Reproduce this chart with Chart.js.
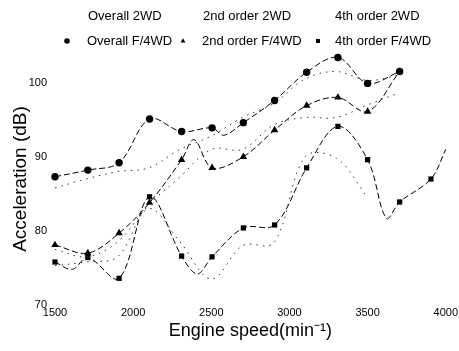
<!DOCTYPE html>
<html>
<head>
<meta charset="utf-8">
<script src="https://cdn.jsdelivr.net/npm/chart.js@4.4.1/dist/chart.umd.min.js"></script>
<style>
  body { margin: 0; background: #fff; }
  canvas { display: block; }
</style>
</head>
<body>
<canvas id="chart1" width="459" height="351"></canvas>
<script>

// axes
const xTicks = [1500, 2000, 2500, 3000, 3500, 4000];
const yTicks = [70, 80, 90, 100];

// regimes ou il y a un marqueur (F/4WD)
const marks4 = [1500, 1710, 1910, 2105, 2310, 2505, 2705, 2905, 3110, 3310, 3500, 3705, 3905];

// Overall F/4WD
const rpmOverall4 = [1500, 1710, 1910, 2105, 2310, 2505, 2580, 2705, 2905, 3110, 3310, 3500, 3705];
const accOverall4 = [87.3, 88.2, 89.2, 95.1, 93.4, 93.9, 92.9, 94.6, 97.6, 101.4, 103.4, 99.9, 101.5];

// 2nd order F/4WD
const rpmSecond4 = [1500, 1710, 1910, 2105, 2310, 2390, 2505, 2705, 2905, 3110, 3310, 3500, 3705];
const accSecond4 = [78.1, 77.0, 79.7, 83.8, 89.6, 92.3, 88.5, 90.0, 93.6, 96.9, 98.0, 96.1, 101.5];

// 4th order F/4WD
const rpmFourth4 = [1500, 1610, 1710, 1910, 2105, 2310, 2410, 2505, 2705, 2905, 3110, 3310, 3500, 3620, 3705, 3905, 4000];
const accFourth4 = [75.8, 74.8, 76.4, 73.6, 84.6, 76.6, 74.2, 76.5, 80.4, 80.8, 88.5, 94.1, 89.6, 81.7, 83.9, 87.0, 91.0];

// 2WD (courbes sans marqueurs lisibles)
const rpm2 = [1500, 1700, 1900, 2100, 2300, 2500, 2700, 2900, 3100, 3300, 3500, 3700];
const accOverall2 = [85.8, 87.0, 88.0, 88.5, 91.0, 92.8, 95.3, 97.2, 100.5, 101.5, 100.3, 101.0];
const accSecond2 = [77.5, 76.5, 78.5, 83.5, 87.3, 91.0, 91.0, 94.3, 95.3, 95.3, 97.0, 98.6];
const accFourth2 = [75.3, 75.8, 76.5, 83.0, 78.5, 73.5, 78.0, 78.4, 90.0, 89.8, 84.5, null];

function toPoints(rpm, acc){
    return rpm.map(function(r, i){ return {x: r, y: acc[i]}; });
}

const font = '"Liberation Sans", Arial, sans-serif';

// legende dessinee a la main (2 lignes, 3 colonnes)
const legendPos = [[88, 16], [203, 16], [335, 16], [87, 41, 67], [202, 41, 183], [335, 41, 318]];

const legendScan = {
    id: 'legendScan',
    afterDraw(chart){
        const ctx = chart.ctx;
        ctx.save();
        ctx.font = '13px ' + font;
        ctx.fillStyle = '#000';
        ctx.strokeStyle = '#000';
        ctx.textBaseline = 'middle';
        chart.data.datasets.forEach(function(ds, i){
            const p = legendPos[i];
            ctx.fillText(ds.label, p[0], p[1]);
            if (p[2]) {
                Chart.helpers.drawPoint(ctx, {pointStyle: ds.pointStyle, radius: 2.8, rotation: 0, borderWidth: 0}, p[2], p[1]);
            }
        });
        ctx.restore();
    }
};

function line2WD(label, acc){
    return {
        label: label,
        data: toPoints(rpm2, acc),
        borderColor: '#333',
        borderWidth: 1,
        borderDash: [1.5, 5],
        pointRadius: 0,
        tension: 0.35,
        fill: false
    };
}

function line4WD(label, rpm, acc, style){
    return {
        label: label,
        data: toPoints(rpm, acc),
        borderColor: '#000',
        backgroundColor: '#000',
        borderWidth: 1,
        borderDash: [6, 3],
        pointStyle: style,
        pointRadius: function(c){ return marks4.includes(c.raw.x) ? (style == 'triangle' ? 4.3 : 3.7) : 0; },
        pointBorderWidth: 0,
        tension: 0.35,
        fill: false
    };
}

ctx = document.getElementById('chart1').getContext('2d');

const myChart = new Chart(ctx, {
    type: 'line',
    data: {
        datasets: [
            line2WD('Overall 2WD', accOverall2),
            line2WD('2nd order 2WD', accSecond2),
            line2WD('4th order 2WD', accFourth2),
            line4WD('Overall F/4WD', rpmOverall4, accOverall4, 'circle'),
            line4WD('2nd order F/4WD', rpmSecond4, accSecond4, 'triangle'),
            line4WD('4th order F/4WD', rpmFourth4, accFourth4, 'rect')
        ]
    },
    options: {
        responsive: false,
        animation: false,
        devicePixelRatio: 1,
        clip: false,
        layout: { padding: { top: 53, right: 13, left: 0, bottom: 0 } },
        plugins: {
            legend: { display: false },
            tooltip: { enabled: false }
        },
        scales: {
            x: {
                type: 'linear',
                min: 1500,
                max: 4000,
                afterBuildTicks: function(s){ s.ticks = xTicks.map(function(v){ return {value: v}; }); },
                afterFit: function(s){ s.height = 46; },
                grid: { display: false, drawTicks: false },
                border: { display: false },
                ticks: {
                    color: '#000',
                    font: { family: font, size: 11 },
                    padding: 1,
                    maxRotation: 0,
                    callback: function(v){ return String(v); }
                },
                title: {
                    display: true,
                    text: 'Engine speed(min\u207B\u00B9)',
                    color: '#000',
                    font: { family: font, size: 18 },
                    padding: { top: 0, bottom: 9 }
                }
            },
            y: {
                min: 70,
                max: 104,
                afterBuildTicks: function(s){ s.ticks = yTicks.map(function(v){ return {value: v}; }); },
                afterFit: function(s){ s.width = 55; },
                grid: { display: false, drawTicks: false },
                border: { display: false },
                ticks: { color: '#000', font: { family: font, size: 11 }, padding: 8 },
                title: {
                    display: true,
                    text: 'Acceleration (dB)',
                    color: '#000',
                    font: { family: font, size: 19 },
                    padding: { top: 9, bottom: 0 }
                }
            }
        }
    },
    plugins: [legendScan]
});

</script>
</body>
</html>
